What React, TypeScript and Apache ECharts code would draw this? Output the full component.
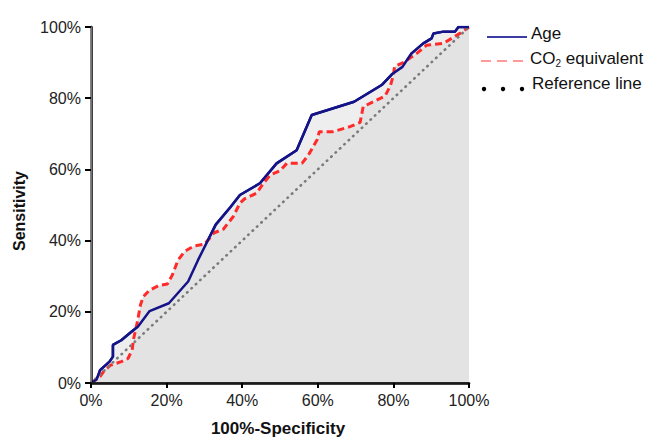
import React, { useEffect, useRef } from "react";
import * as echarts from "echarts";

const xTicks = [0, 20, 40, 60, 80, 100];
const yTicks = [0, 20, 40, 60, 80, 100];

const ageCurve: [number, number][] = [
  [0, 0], [1.5, 1], [2.4, 3.6], [4.9, 6], [5.8, 7.4], [5.8, 10.7], [8, 12], [10.7, 14.4],
  [12.4, 15.8], [15.5, 20.2], [20.6, 22.4], [25.7, 28.5], [28.3, 34.5], [33, 44.5],
  [36.8, 49.3], [39.4, 52.8], [44.7, 56.1], [49.1, 61.7], [54.4, 65.4], [58.4, 75.3],
  [69.6, 79], [76.9, 83.7], [79.6, 86.7], [82.4, 88.8], [84.8, 92.6], [87.9, 95.4],
  [90.1, 96.8], [90.6, 98.2], [93.2, 98.7], [96.3, 98.7], [97.2, 100], [100, 100],
];

const co2Curve: [number, number][] = [
  [0, 0], [2.4, 1.8], [3.6, 3.6], [5.2, 5], [8, 6], [9.8, 6.9], [10.9, 9.3], [11.2, 12.1],
  [12.2, 16.8], [13.1, 22], [13.8, 24.2], [15.4, 26], [17.8, 27.3], [20.2, 27.8],
  [21.5, 30.3], [23, 34.5], [24.8, 37], [27.3, 38.5], [30, 39], [32.6, 42.2], [35, 43.2],
  [37.6, 46.7], [39.4, 50.5], [40.7, 51.8], [43.8, 53.3], [45.6, 56.1], [47.4, 58.4],
  [50, 59.6], [51.8, 61.7], [55.8, 61.7], [57.5, 64], [59.9, 68.5], [60.4, 70.6],
  [64, 70.6], [68.5, 72], [71.2, 73.2], [72, 77.6], [74.7, 79], [77.8, 80.6], [79.2, 83.5],
  [80, 86.5], [80.3, 88.9], [82.6, 90], [86.2, 92.6], [88.8, 94.9], [93.2, 95.4],
  [95.4, 96.8], [97.6, 98.2], [100, 100],
];

const referenceLine: [number, number][] = [[0, 0], [100, 100]];

const seriesNames = ["Age", "CO2 equivalent", "Reference line"];
const xTitle = "100%-Specificity";
const yTitle = "Sensitivity";

const FONT = "Liberation Sans, Arial, sans-serif";

export default function App() {
  const ref = useRef<HTMLDivElement>(null);
  useEffect(() => {
    if (!ref.current) return;
    const chart = echarts.init(ref.current, undefined, { renderer: "svg" });
    chart.setOption({
      animation: false,
      backgroundColor: "#fff",
      grid: { left: 91, right: 177, top: 27, bottom: 55 },
      xAxis: [
        {
          type: "value",
          min: 0,
          max: 100,
          interval: 20,
          z: 10,
          splitLine: { show: false },
          axisLine: { show: true, lineStyle: { color: "#000", width: 2.5 } },
          axisTick: { show: true, length: 5, lineStyle: { color: "#000", width: 2 } },
          axisLabel: {
            formatter: "{value}%",
            fontSize: 16,
            color: "#222",
            fontFamily: FONT,
            margin: 9,
          },
          data: xTicks,
        },
        {
          type: "value",
          position: "top",
          min: 0,
          max: 100,
          z: 10,
          splitLine: { show: false },
          axisLine: { show: true, lineStyle: { color: "#222", width: 1.5 } },
          axisTick: { show: false },
          axisLabel: { show: false },
        },
      ],
      yAxis: [
        {
          type: "value",
          min: 0,
          max: 100,
          interval: 20,
          z: 10,
          splitLine: { show: false },
          axisLine: { show: true, lineStyle: { color: "#000", width: 2.5 } },
          axisTick: { show: true, length: 6, lineStyle: { color: "#000", width: 2 } },
          axisLabel: {
            formatter: "{value}%",
            fontSize: 16,
            color: "#222",
            fontFamily: FONT,
            margin: 10,
            padding: [0, 0, 10, 0],
          },
          data: yTicks,
        },
        {
          type: "value",
          position: "right",
          min: 0,
          max: 100,
          z: 10,
          splitLine: { show: false },
          axisLine: { show: true, lineStyle: { color: "#9a9a9a", width: 1.5 } },
          axisTick: { show: false },
          axisLabel: { show: false },
        },
      ],
      series: [
        {
          name: seriesNames[0],
          type: "line",
          data: ageCurve,
          symbol: "none",
          silent: true,
          z: 3,
          lineStyle: { color: "#141488", width: 2.5 },
          areaStyle: { color: "#eeeeee", opacity: 1 },
        },
        {
          name: seriesNames[1],
          type: "line",
          data: co2Curve,
          symbol: "none",
          silent: true,
          z: 4,
          lineStyle: { color: "#ff2b2b", width: 3, type: [7, 4] },
          areaStyle: { color: "#e3e3e3", opacity: 1 },
        },
        {
          name: seriesNames[2],
          type: "line",
          data: referenceLine,
          symbol: "none",
          silent: true,
          z: 5,
          lineStyle: { color: "#7a7a7a", width: 2.6, type: [0.5, 5.5], cap: "round" },
        },
        {
          name: "age-top",
          type: "line",
          data: ageCurve,
          symbol: "none",
          silent: true,
          z: 6,
          lineStyle: { color: "#141488", width: 2.5 },
        },
      ],
      graphic: [
        {
          type: "text",
          x: 19,
          y: 211,
          rotation: Math.PI / 2,
          style: {
            text: yTitle,
            fontSize: 16,
            fontWeight: "bold",
            fontFamily: FONT,
            fill: "#111",
            align: "center",
            verticalAlign: "middle",
          },
        },
        {
          type: "text",
          x: 278,
          y: 428,
          style: {
            text: xTitle,
            fontSize: 17,
            fontWeight: "bold",
            fontFamily: FONT,
            fill: "#111",
            align: "center",
            verticalAlign: "middle",
          },
        },
        {
          type: "line",
          shape: { x1: 487, y1: 37, x2: 527, y2: 37 },
          style: { stroke: "#3c3ca6", lineWidth: 2 },
        },
        {
          type: "text",
          x: 531,
          y: 33,
          style: {
            text: seriesNames[0],
            fontSize: 17,
            fontFamily: FONT,
            fill: "#111",
            verticalAlign: "middle",
          },
        },
        {
          type: "line",
          shape: { x1: 481, y1: 61, x2: 527, y2: 61 },
          style: { stroke: "#ff9a9a", lineWidth: 2, lineDash: [10, 6] },
        },
        {
          type: "text",
          x: 530,
          y: 58,
          style: {
            text: "{a|CO}{b|2}{a| equivalent}",
            fontSize: 17,
            fontFamily: FONT,
            fill: "#111",
            verticalAlign: "middle",
            rich: {
              a: { fontSize: 17, fontFamily: FONT, fill: "#111" },
              b: { fontSize: 10, fontFamily: FONT, fill: "#111", padding: [11, 0, 0, 0] },
            },
          },
        },
        { type: "circle", shape: { cx: 484, cy: 89, r: 2.2 }, style: { fill: "#000" } },
        { type: "circle", shape: { cx: 503, cy: 89, r: 2.2 }, style: { fill: "#000" } },
        { type: "circle", shape: { cx: 522, cy: 89, r: 2.2 }, style: { fill: "#000" } },
        {
          type: "text",
          x: 532,
          y: 83.5,
          style: {
            text: seriesNames[2],
            fontSize: 17,
            fontFamily: FONT,
            fill: "#111",
            verticalAlign: "middle",
          },
        },
      ],
    });
    return () => chart.dispose();
  }, []);
  return (
    <div
      ref={ref}
      style={{ position: "absolute", left: 0, top: 0, width: 646, height: 438 }}
    />
  );
}
